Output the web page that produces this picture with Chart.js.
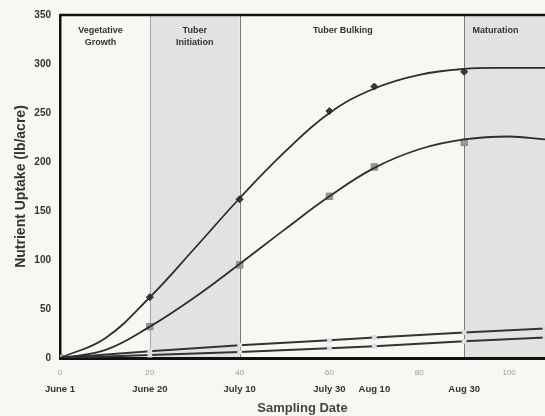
<!DOCTYPE html>
<html>
<head>
<meta charset="utf-8">
<script src="https://cdn.jsdelivr.net/npm/chart.js@4.4.0/dist/chart.umd.min.js"></script>
<style>
  html, body { margin: 0; padding: 0; background: #f8f7f4; }
  .wrap { width: 545px; height: 416px; }
</style>
</head>
<body>
<div class="wrap"><canvas id="myChart" width="545" height="416"></canvas></div>
<script>
// sampled values (days after June 1)
const days = [0, 20, 40, 60, 70, 90];
const seriesA = [0, 62, 162, 252, 277, 292];
const seriesB = [0, 32, 95, 165, 195, 220];

// fitted curves
const curveDays = [0, 10, 20, 30, 40, 50, 60, 70, 80, 90, 100, 108];
const curveA = [0, 20, 62, 112, 163, 210, 250, 275, 289, 295, 296, 296];
const curveB = [0, 8, 32, 62, 96, 131, 165, 194, 213, 223, 226, 223];

// the two low series
const lowDays = [0, 20, 40, 60, 70, 90, 108];
const seriesC = [0, 7, 13, 18, 21, 26, 30];
const seriesD = [0, 3, 6, 10, 12, 17, 21];

// date tick labels
const dateDays = [0, 20, 40, 60, 70, 90];
const dateLabels = ["June 1", "June 20", "July 10", "July 30", "Aug 10", "Aug 30"];

// growth stages
const stageNames = [["Vegetative", "Growth"], ["Tuber", "Initiation"], ["Tuber Bulking"], ["Maturation"]];
const stageStart = [0, 20, 40, 90];
const stageEnd = [20, 40, 90, 108];
const stageLabelDay = [9, 30, 63, 97];
const stageShaded = [false, true, false, true];

const xMax = 108;
const FONT = "'Liberation Sans', Arial, sans-serif";

const pts = (xs, ys) => xs.map((x, i) => ({ x: x, y: ys[i] }));

const stagePlugin = {
  id: "stages",
  beforeDraw(chart) {
    const ctx = chart.ctx;
    const area = chart.chartArea;
    const xs = chart.scales.x;
    ctx.save();
    ctx.fillStyle = "#f8f7f4";
    ctx.fillRect(0, 0, chart.width, chart.height);

    stageNames.forEach((name, i) => {
      const x0 = xs.getPixelForValue(stageStart[i]);
      const x1 = xs.getPixelForValue(stageEnd[i]);
      if (stageShaded[i]) {
        ctx.fillStyle = "#e2e2e1";
        ctx.fillRect(x0, area.top, x1 - x0, area.bottom - area.top);
      }
      if (stageStart[i] > 0) {
        ctx.strokeStyle = i === 1 ? "#a8a8a8" : "#7a7a7a";
        ctx.lineWidth = 1;
        ctx.beginPath();
        ctx.moveTo(Math.round(x0) + 0.5, area.top);
        ctx.lineTo(Math.round(x0) + 0.5, area.bottom);
        ctx.stroke();
      }
      ctx.fillStyle = "#333";
      ctx.font = "bold 9px " + FONT;
      ctx.textAlign = "center";
      ctx.textBaseline = "middle";
      const cx = xs.getPixelForValue(stageLabelDay[i]);
      name.forEach((line, j) => {
        ctx.fillText(line, cx, area.top + 16 + j * 12);
      });
    });

    // top frame line
    ctx.strokeStyle = "#111";
    ctx.lineWidth = 2.5;
    ctx.beginPath();
    ctx.moveTo(area.left, area.top);
    ctx.lineTo(chart.width, area.top);
    ctx.stroke();
    ctx.restore();
  },
};

const noSidePadding = (scale, h) => {
  scale.height = h;
  scale.paddingLeft = 0;
  scale.paddingRight = 0;
};

const ctx = document.getElementById("myChart").getContext("2d");

new Chart(ctx, {
  type: "line",
  data: {
    datasets: [
      {
        data: pts(curveDays, curveA),
        borderColor: "#2e2e2e",
        borderWidth: 1.8,
        pointRadius: 0,
        tension: 0.4,
      },
      {
        data: pts(curveDays, curveB),
        borderColor: "#2e2e2e",
        borderWidth: 1.8,
        pointRadius: 0,
        tension: 0.4,
      },
      {
        data: pts(lowDays, seriesC),
        borderColor: "#333",
        borderWidth: 2,
        pointRadius: 2,
        pointStyle: "rect",
        pointBackgroundColor: "#dcdcdc",
        pointBorderColor: "#dcdcdc",
        tension: 0,
      },
      {
        data: pts(lowDays, seriesD),
        borderColor: "#333",
        borderWidth: 2,
        pointRadius: 2,
        pointStyle: "rect",
        pointBackgroundColor: "#dcdcdc",
        pointBorderColor: "#dcdcdc",
        tension: 0,
      },
      {
        data: pts(days, seriesA),
        showLine: false,
        pointStyle: "rectRot",
        pointRadius: 3.5,
        pointBackgroundColor: "#3a3a3a",
        pointBorderColor: "#2a2a2a",
      },
      {
        data: pts(days, seriesB),
        showLine: false,
        pointStyle: "rect",
        pointRadius: 4.5,
        pointBackgroundColor: "#9a9a9a",
        pointBorderColor: "#888",
      },
    ],
  },
  options: {
    responsive: false,
    animation: false,
    layout: { autoPadding: false, padding: { top: 15, right: 0, left: 0, bottom: 0 } },
    plugins: { legend: { display: false }, tooltip: { enabled: false } },
    scales: {
      x: {
        type: "linear",
        position: "bottom",
        min: 0,
        max: xMax,
        grid: { display: false, drawTicks: false },
        border: { display: true, color: "#111", width: 3 },
        ticks: {
          stepSize: 20,
          includeBounds: false,
          color: "#9a9a9a",
          padding: 10,
          maxRotation: 0,
          font: { family: FONT, size: 8 },
        },
        afterFit(scale) {
          noSidePadding(scale, 22);
        },
      },
      x2: {
        type: "linear",
        position: "bottom",
        min: 0,
        max: xMax,
        grid: { display: false, drawTicks: false },
        border: { display: false },
        afterBuildTicks(axis) {
          axis.ticks = dateDays.map((d) => ({ value: d }));
        },
        ticks: {
          autoSkip: false,
          maxRotation: 0,
          padding: 4,
          color: "#333",
          font: { family: FONT, size: 9.5, weight: "bold" },
          callback: (v) => dateLabels[dateDays.indexOf(v)],
        },
        title: {
          display: true,
          text: "Sampling Date",
          color: "#444",
          padding: { top: 0, bottom: 0 },
          font: { family: FONT, size: 13, weight: "bold" },
        },
        afterFit(scale) {
          noSidePadding(scale, 36);
        },
      },
      y: {
        min: 0,
        max: 350,
        grid: { display: false, drawTicks: false },
        border: { display: true, color: "#111", width: 2.5 },
        ticks: {
          stepSize: 50,
          padding: 9,
          color: "#333",
          font: { family: FONT, size: 10, weight: "bold" },
        },
        title: {
          display: true,
          text: "Nutrient Uptake (lb/acre)",
          color: "#333",
          padding: { top: 13, bottom: 0 },
          font: { family: FONT, size: 14, weight: "bold" },
        },
        afterFit(scale) {
          scale.width = 60;
        },
      },
    },
  },
  plugins: [stagePlugin],
});
</script>
</body>
</html>
